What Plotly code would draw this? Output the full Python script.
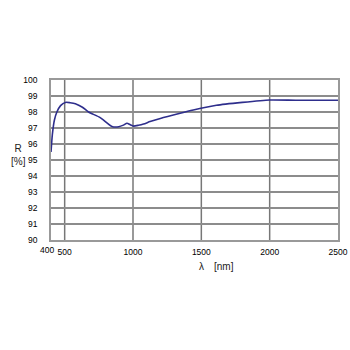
import plotly.graph_objects as go

wavelength = [400, 410, 425, 443, 470, 505, 540, 578, 630, 675, 760, 846, 895, 930, 956, 980, 1004, 1040, 1077, 1125, 1200, 1345, 1441, 1611, 1800, 2000, 2200, 2500]
reflectance = [95.5, 96.6, 97.5, 98.0, 98.4, 98.6, 98.58, 98.52, 98.3, 98.0, 97.65, 97.1, 97.08, 97.18, 97.3, 97.2, 97.12, 97.17, 97.25, 97.4, 97.6, 97.92, 98.12, 98.42, 98.6, 98.75, 98.73, 98.73]

x_ticks = [500, 1000, 1500, 2000, 2500]
x_start_label = 400
y_ticks = [90, 91, 92, 93, 94, 95, 96, 97, 98, 99, 100]

fig = go.Figure()
fig.add_trace(go.Scatter(x=wavelength, y=reflectance, mode="lines",
                         line=dict(color="#2e2e8c", width=1.6, shape="spline", smoothing=0.6)))

font = dict(family="Liberation Sans", size=8.5, color="#000")
fig.update_layout(
    width=350, height=350,
    margin=dict(l=51, r=12, t=80, b=110),
    paper_bgcolor="white", plot_bgcolor="white",
    showlegend=False,
    xaxis=dict(range=[400, 2500], tickvals=x_ticks, ticktext=[str(v) for v in x_ticks],
               tickangle=0, automargin=False, ticklabeloverflow="allow",
               showgrid=False, zeroline=False, showline=True, linecolor="#999", linewidth=1.5,
               mirror=True, ticks="", tickfont=font, ticklabelstandoff=3),
    yaxis=dict(range=[90, 100], tickvals=y_ticks, showgrid=True, gridcolor="#8c8c8c", gridwidth=1.5,
               automargin=False, ticklabelstandoff=10,
               zeroline=False, showline=True, linecolor="#999", linewidth=1.5, mirror=True,
               ticks="", tickfont=font),
    annotations=[
        dict(text=str(x_start_label), x=x_start_label, y=0, xref="x", yref="paper", yanchor="top",
             xanchor="center", xshift=-4, yshift=-3, showarrow=False, font=font),
        dict(text="R<br>[%]", x=-0.148, y=0.53, xref="paper", yref="paper", showarrow=False,
             font=dict(family="Liberation Sans", size=10, color="#222"), align="center"),
        dict(text="λ　[nm]", x=0.578, y=-0.215, xref="paper", yref="paper", showarrow=False,
             font=dict(family="Liberation Sans", size=10, color="#222")),
    ],
)
for xv in [500, 1000, 1500, 2000]:
    fig.add_shape(type="line", x0=xv, x1=xv, y0=90, y1=100, xref="x", yref="y",
                  line=dict(color="#777", width=1.5), layer="below")

fig.write_html("out.html", config={"displayModeBar": False},
               post_script="document.body.style.margin='0';")
